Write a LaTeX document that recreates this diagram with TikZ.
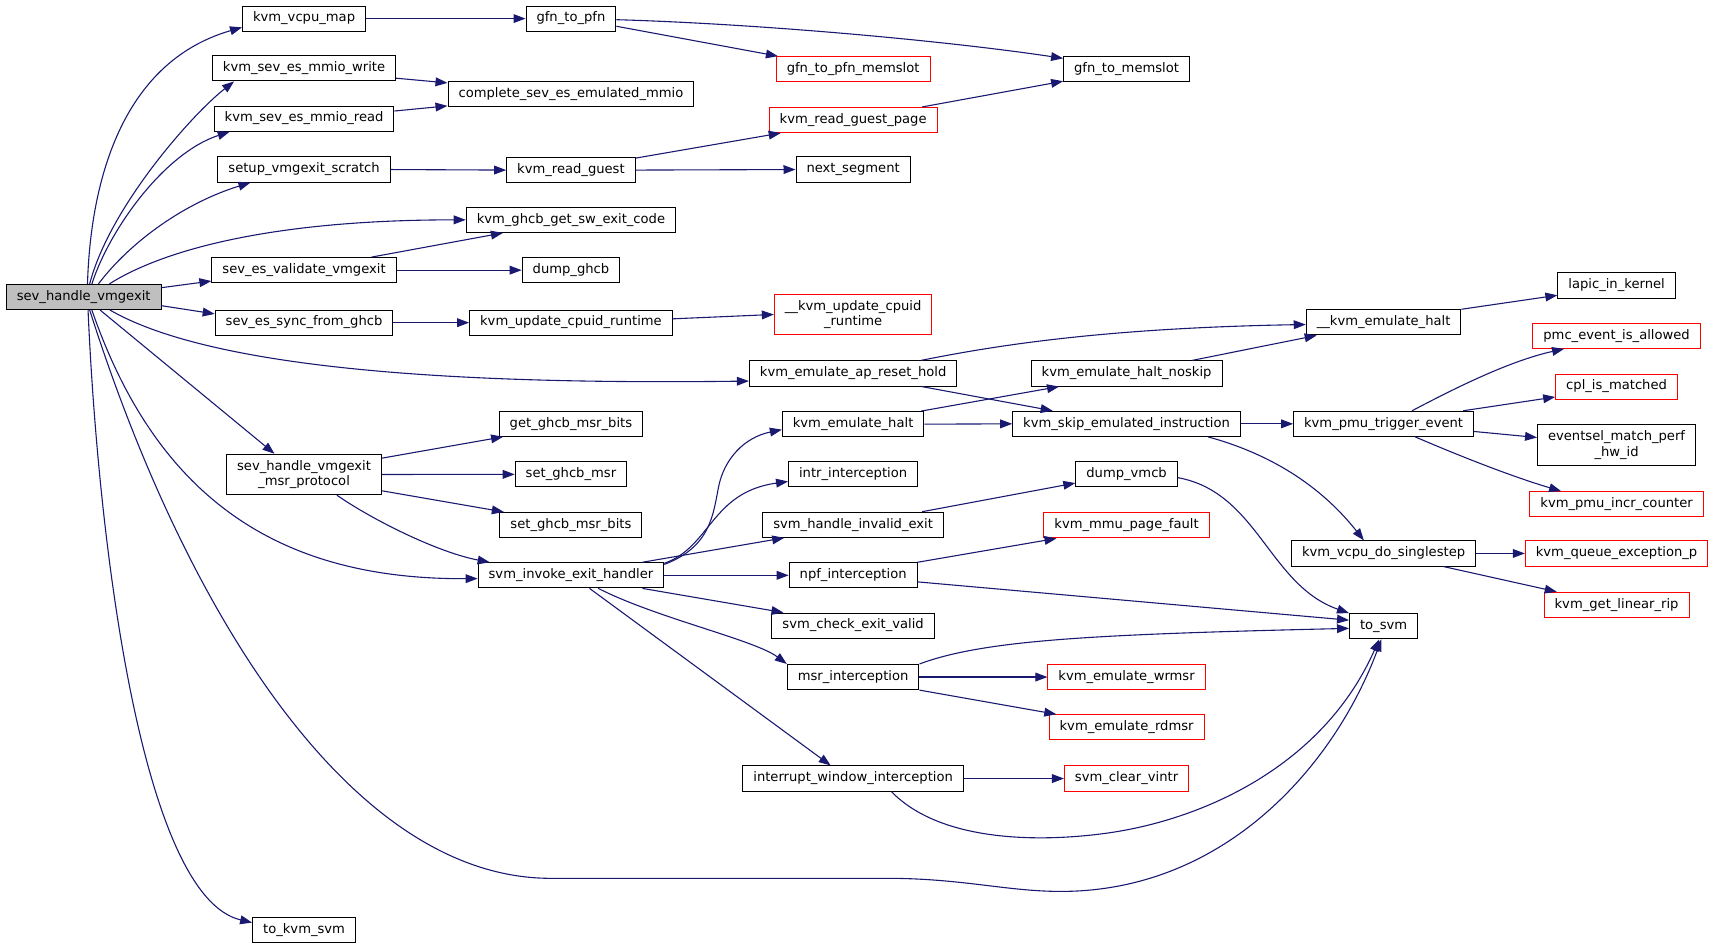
\documentclass[tikz,border=0pt]{standalone}
\usepackage{fontspec}
\setmainfont{DejaVu Sans}
\usetikzlibrary{arrows.meta}
\definecolor{mb}{HTML}{191970}
\definecolor{rootfill}{HTML}{BFBFBF}
\begin{document}
\begin{tikzpicture}[x=1pt,y=-1pt,
  nb/.style={draw=black, line width=0.9pt, fill=white, inner xsep=9.6pt, inner ysep=0pt,
    minimum height=23pt, text height=9pt, text depth=3pt,
    font=\fontsize{12}{14}\selectfont},
  rb/.style={nb, draw=red},
  root/.style={nb, fill=rootfill},
  nb2/.style={draw=black, line width=0.9pt, fill=white, inner xsep=9.6pt, inner ysep=5.5pt,
    align=center, font=\fontsize{12}{14}\selectfont},
  rb2/.style={nb2, draw=red},
  e/.style={draw=mb, line width=1pt, -{Triangle[length=11pt,width=8pt]}}
]
\useasboundingbox (0,0) rectangle (1568,868);

% rank 1
\node[root] (shv) at (76.5,271.5) {sev\_handle\_vmgexit};
% rank 2
\node[nb] (vmap) at (278,17) {kvm\_vcpu\_map};
\node[nb] (mw) at (278,62.5) {kvm\_sev\_es\_mmio\_write};
\node[nb] (mr) at (278,108.5) {kvm\_sev\_es\_mmio\_read};
\node[nb] (scr) at (278,155) {setup\_vmgexit\_scratch};
\node[nb] (val) at (278,247) {sev\_es\_validate\_vmgexit};
\node[nb] (sync) at (278,295) {sev\_es\_sync\_from\_ghcb};
\node[nb2] (msrp) at (278,433.8) {sev\_handle\_vmgexit\\\_msr\_protocol};
\node[nb] (tokvm) at (278,850.5) {to\_kvm\_svm};
% rank 3
\node[nb] (g2p) at (522,17) {gfn\_to\_pfn};
\node[nb] (cmm) at (522,85.8) {complete\_sev\_es\_emulated\_mmio};
\node[nb] (rg) at (522,155.5) {kvm\_read\_guest};
\node[nb] (swc) at (522,201) {kvm\_ghcb\_get\_sw\_exit\_code};
\node[nb] (dg) at (522,247) {dump\_ghcb};
\node[nb] (ucr) at (522,295) {kvm\_update\_cpuid\_runtime};
\node[nb] (gmb) at (522,387.4) {get\_ghcb\_msr\_bits};
\node[nb] (sgm) at (522,433.7) {set\_ghcb\_msr};
\node[nb] (smb) at (522,480) {set\_ghcb\_msr\_bits};
\node[nb] (inv) at (522,526) {svm\_invoke\_exit\_handler};
% rank 4
\node[rb] (g2pm) at (780,63.3) {gfn\_to\_pfn\_memslot};
\node[rb] (rgp) at (780,109.7) {kvm\_read\_guest\_page};
\node[nb] (nseg) at (780,155) {next\_segment};
\node[rb2] (uucr) at (780,287.5) {\_\_kvm\_update\_cpuid\\\_runtime};
\node[nb] (aprh) at (780,341.4) {kvm\_emulate\_ap\_reset\_hold};
\node[nb] (eh) at (780,387.8) {kvm\_emulate\_halt};
\node[nb] (intr) at (780,433.7) {intr\_interception};
\node[nb] (hie) at (780,479.8) {svm\_handle\_invalid\_exit};
\node[nb] (npf) at (780,526) {npf\_interception};
\node[nb] (cev) at (780,572) {svm\_check\_exit\_valid};
\node[nb] (msri) at (780,619) {msr\_interception};
\node[nb] (iwi) at (780,711.8) {interrupt\_window\_interception};
% rank 5
\node[nb] (g2m) at (1030,63.3) {gfn\_to\_memslot};
\node[nb] (ehn) at (1030,341.5) {kvm\_emulate\_halt\_noskip};
\node[nb] (skip) at (1030,387.5) {kvm\_skip\_emulated\_instruction};
\node[nb] (dvm) at (1030,433.7) {dump\_vmcb};
\node[rb] (mpf) at (1030,480.3) {kvm\_mmu\_page\_fault};
\node[rb] (wrm) at (1030,619) {kvm\_emulate\_wrmsr};
\node[rb] (rdm) at (1030,665) {kvm\_emulate\_rdmsr};
\node[rb] (clv) at (1030,711.8) {svm\_clear\_vintr};
% rank 6
\node[nb] (ueh) at (1265,294.7) {\_\_kvm\_emulate\_halt};
\node[nb] (pte) at (1265,387.5) {kvm\_pmu\_trigger\_event};
\node[nb] (dss) at (1265,506) {kvm\_vcpu\_do\_singlestep};
\node[nb] (tsvm) at (1265,572.5) {to\_svm};
% rank 7
\node[nb] (lik) at (1478,261) {lapic\_in\_kernel};
\node[rb] (pea) at (1478,307) {pmc\_event\_is\_allowed};
\node[rb] (cpl) at (1478,353.5) {cpl\_is\_matched};
\node[nb2] (emp) at (1478,407) {eventsel\_match\_perf\\\_hw\_id};
\node[rb] (pic) at (1478,461) {kvm\_pmu\_incr\_counter};
\node[rb] (qep) at (1478,506) {kvm\_queue\_exception\_p};
\node[rb] (glr) at (1478,553) {kvm\_get\_linear\_rip};

% edges from sev_handle_vmgexit
\draw[e] ([shift={(3.5,0)}]shv.north) .. controls (82,190) and (100,60) .. ([shift={(0,8)}]vmap.west);
\draw[e] ([shift={(5.5,0)}]shv.north) .. controls (100,190) and (175,105) .. ([shift={(-64,0)}]mw.south);
\draw[e] ([shift={(7.5,0)}]shv.north) .. controls (100,210) and (150,140) .. ([shift={(-68,0)}]mr.south);
\draw[e] ([shift={(13.5,0)}]shv.north) .. controls (120,220) and (170,185) .. ([shift={(-49,0)}]scr.south);
\draw[e] ([shift={(23.5,0)}]shv.north) .. controls (150,228) and (250,201) .. (swc.west);
\draw[e] ([shift={(0,-8.5)}]shv.east) -- ([shift={(0,-2)}]val.south west);
\draw[e] ([shift={(0,8)}]shv.east) -- ([shift={(0,-8)}]sync.west);
\draw[e] ([shift={(24,0)}]shv.south) .. controls (190,335) and (400,352) .. ([shift={(0,7)}]aprh.west);
\draw[e] ([shift={(15,0)}]shv.south) -- ([shift={(-27,0)}]msrp.north);
\draw[e] ([shift={(7.5,0)}]shv.south) .. controls (145,460) and (260,530) .. ([shift={(0,3)}]inv.west);
\draw[e] ([shift={(5.5,0)}]shv.south) .. controls (170,560) and (320,800) .. (500,803) -- (810,803) .. controls (880,803) and (920,815) .. (970,815) .. controls (1120,815) and (1220,700) .. ([shift={(-2,0)}]tsvm.south);
\draw[e] ([shift={(4,0)}]shv.south) .. controls (90,500) and (130,820) .. ([shift={(0,-7)}]tokvm.west);

% rank 2 -> 3
\draw[e] (vmap.east) -- (g2p.west);
\draw[e] ([shift={(0,9)}]mw.east) -- ([shift={(0,-10)}]cmm.west);
\draw[e] ([shift={(0,-7)}]mr.east) -- ([shift={(0,11)}]cmm.west);
\draw[e] (scr.east) -- (rg.west);
\draw[e] ([shift={(-23,0)}]val.north east) -- ([shift={(34,0)}]swc.south west);
\draw[e] (val.east) -- (dg.west);
\draw[e] (sync.east) -- (ucr.west);
\draw[e] ([shift={(0,4)}]msrp.north east) -- ([shift={(4,0)}]gmb.south west);
\draw[e] (msrp.east) -- (sgm.west);
\draw[e] ([shift={(0,-4)}]msrp.south east) -- ([shift={(4,0)}]smb.north west);
\draw[e] ([shift={(30,0)}]msrp.south) .. controls (340,475) and (400,505) .. ([shift={(11,0)}]inv.north west);

% rank 3 -> 4/5
\draw[e] ([shift={(0,7)}]g2p.east) -- ([shift={(2,0)}]g2pm.north west);
\draw[e] ([shift={(0,1)}]g2p.east) .. controls (700,22) and (870,38) .. ([shift={(0,2)}]g2m.north west);
\draw[e] ([shift={(0,1)}]rg.north east) -- ([shift={(11,0)}]rgp.south west);
\draw[e] (rg.east) -- (nseg.west);
\draw[e] ([shift={(0,-3.5)}]ucr.east) -- (uucr.west);
\draw[e] ([shift={(0,2)}]inv.north east) .. controls (650,500) and (652,470) .. (657,445) .. controls (662,420) and (680,400) .. ([shift={(0,5)}]eh.west);
\draw[e] ([shift={(0,1)}]inv.north east) .. controls (650,500) and (650,450) .. ([shift={(0,6.5)}]intr.west);
\draw[e] ([shift={(-20,0)}]inv.north east) -- ([shift={(20,0)}]hie.south west);
\draw[e] (inv.east) -- (npf.west);
\draw[e] ([shift={(-20,0)}]inv.south east) -- ([shift={(11,0)}]cev.north west);
\draw[e] ([shift={(25,0)}]inv.south) .. controls (600,565) and (690,585) .. (msri.north west);
\draw[e] ([shift={(17,0)}]inv.south) -- ([shift={(-20.5,0)}]iwi.north);

% rank 4 -> 5/6
\draw[e] ([shift={(-14,0)}]rgp.north east) -- ([shift={(0,-1)}]g2m.south west);
\draw[e] ([shift={(-33,0)}]aprh.north east) .. controls (900,318) and (1000,300) .. ([shift={(0,2)}]ueh.west);
\draw[e] ([shift={(-33,0)}]aprh.south east) -- ([shift={(37,0)}]skip.north west);
\draw[e] ([shift={(-3,0)}]eh.north east) -- ([shift={(26,0)}]ehn.south west);
\draw[e] (eh.east) -- (skip.west);
\draw[e] ([shift={(-20,0)}]hie.north east) -- ([shift={(0,-4)}]dvm.south west);
\draw[e] (npf.north east) -- ([shift={(12,0)}]mpf.south west);
\draw[e] ([shift={(0,6)}]npf.east) -- ([shift={(0,-5.5)}]tsvm.west);
\draw[e] (msri.north east) .. controls (900,585) and (1000,580) .. ([shift={(0,2)}]tsvm.west);
\draw[e] (msri.east) -- (wrm.west);
\draw[e] (msri.south east) -- ([shift={(7,0)}]rdm.north west);
\draw[e] (iwi.east) -- (clv.west);
\draw[e] ([shift={(35,0)}]iwi.south) .. controls (860,770) and (950,770) .. (1010,762) .. controls (1100,750) and (1210,700) .. ([shift={(-4,0)}]tsvm.south);

% rank 5 -> 6
\draw[e] ([shift={(-28,0)}]ehn.north east) -- ([shift={(10,0)}]ueh.south west);
\draw[e] (skip.east) -- (pte.west);
\draw[e] ([shift={(-30,0)}]skip.south east) .. controls (1180,420) and (1220,460) .. ([shift={(-18,0)}]dss.north);
\draw[e] ([shift={(0,3)}]dvm.east) .. controls (1150,450) and (1160,535) .. (tsvm.north west);

% rank 6 -> 7
\draw[e] (ueh.north east) -- ([shift={(0,-3)}]lik.south west);
\draw[e] ([shift={(26,0)}]pte.north) .. controls (1330,355) and (1380,330) .. ([shift={(29,0)}]pea.south west);
\draw[e] ([shift={(-10,0)}]pte.north east) -- ([shift={(0,-2.5)}]cpl.south west);
\draw[e] ([shift={(0,7)}]pte.east) -- ([shift={(0,-7)}]emp.west);
\draw[e] ([shift={(29,0)}]pte.south) .. controls (1330,415) and (1380,435) .. ([shift={(29,0)}]pic.north west);
\draw[e] (dss.east) -- (qep.west);
\draw[e] ([shift={(-30,0)}]dss.south east) -- ([shift={(12,0)}]glr.north west);
\end{tikzpicture}
\end{document}
